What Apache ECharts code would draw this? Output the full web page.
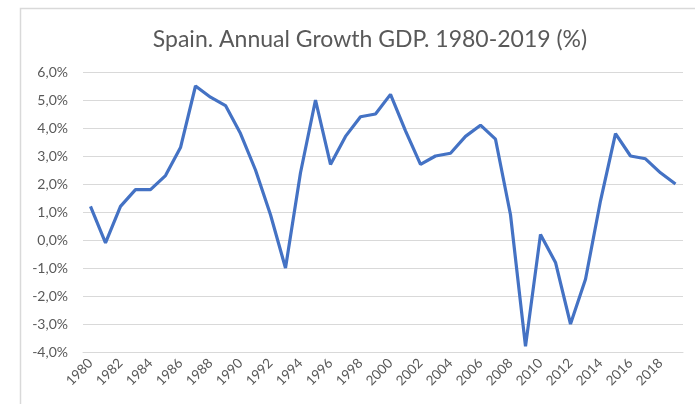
<!DOCTYPE html>
<html>
<head>
<meta charset="utf-8">
<script src="https://cdn.jsdelivr.net/npm/echarts@6/dist/echarts.min.js"></script>
<style>
html,body{margin:0;padding:0;background:#fff;}
#c{width:695px;height:404px;}
</style>
</head>
<body>
<div id="c"></div>
<script>
const titleText = 'Spain. Annual Growth GDP. 1980-2019 (%)';
const years = [];
for (let y = 1980; y <= 2019; y++) years.push(String(y));
const growth = [1.2, -0.1, 1.2, 1.8, 1.8, 2.3, 3.3, 5.5, 5.1, 4.8,
                3.8, 2.5, 0.9, -1.0, 2.4, 5.0, 2.7, 3.7, 4.4, 4.5,
                5.2, 3.9, 2.7, 3.0, 3.1, 3.7, 4.1, 3.6, 0.9, -3.8,
                0.2, -0.8, -3.0, -1.4, 1.4, 3.8, 3.0, 2.9, 2.4, 2.0];
const yMin = -4, yMax = 6, yStep = 1;

const chart = echarts.init(document.getElementById('c'), null, {renderer: 'canvas'});
const font = 'Lato, "Open Sans", sans-serif';
chart.setOption({
  animation: false,
  backgroundColor: '#ffffff',
  graphic: [{
    type: 'rect',
    shape: {x: 20.5, y: 8.5, width: 720, height: 440},
    style: {fill: 'none', stroke: '#d9d9d9', lineWidth: 1.5},
    silent: true
  }],
  title: {
    text: titleText,
    left: 365,
    textAlign: 'center',
    top: 23,
    textStyle: {fontFamily: font, fontSize: 23, fontWeight: 'normal', color: '#595959'}
  },
  grid: {left: 83, right: 12, top: 72, bottom: 52, containLabel: false},
  xAxis: {
    type: 'category',
    data: years,
    boundaryGap: true,
    axisLine: {show: true, onZero: false, lineStyle: {color: '#d9d9d9'}},
    axisTick: {show: false},
    axisLabel: {
      interval: 1,
      rotate: 45,
      margin: 9,
      fontFamily: font,
      fontSize: 13.5,
      color: '#595959'
    }
  },
  yAxis: {
    type: 'value',
    min: yMin,
    max: yMax,
    interval: yStep,
    axisLine: {show: false},
    axisTick: {show: false},
    splitLine: {lineStyle: {color: '#d9d9d9', width: 1}},
    axisLabel: {
      margin: 15,
      fontFamily: font,
      fontSize: 14,
      color: '#595959',
      formatter: v => v.toFixed(1).replace('.', ',') + '%'
    }
  },
  series: [{
    type: 'line',
    data: growth,
    showSymbol: false,
    symbol: 'none',
    lineStyle: {color: '#4472c4', width: 3.2},
    itemStyle: {color: '#4472c4'}
  }]
});
</script>
</body>
</html>
